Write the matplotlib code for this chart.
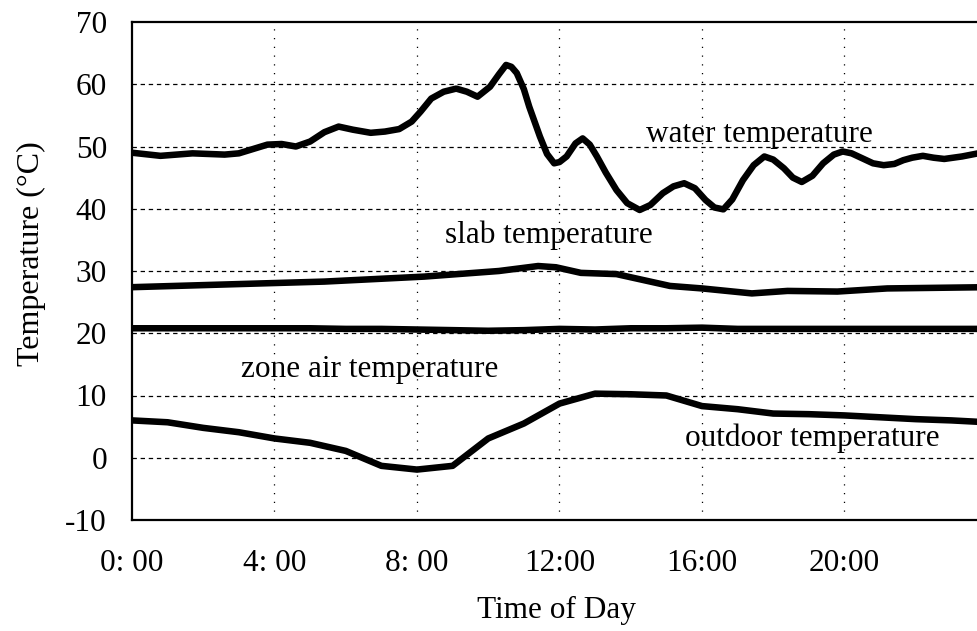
import matplotlib
matplotlib.use("Agg")
import matplotlib.pyplot as plt

plt.rcParams["font.family"] = ["Liberation Serif", "DejaVu Serif"]
plt.rcParams["axes.unicode_minus"] = False

# Hour of day for each water-temperature sample
water_hours = [0.0, 0.8, 1.7, 2.6, 3.0, 3.4, 3.8, 4.2, 4.6, 5.0, 5.4, 5.8, 6.2,
               6.7, 7.1, 7.5, 7.85, 8.1, 8.4, 8.75, 9.1, 9.4, 9.7, 10.05, 10.3,
               10.5, 10.65, 10.8, 11.0, 11.15, 11.45, 11.65, 11.85, 12.0, 12.2,
               12.45, 12.65, 12.85, 13.05, 13.3, 13.6, 13.9, 14.25, 14.55, 14.9,
               15.2, 15.5, 15.8, 16.1, 16.35, 16.6, 16.85, 17.15, 17.45, 17.75,
               18.0, 18.3, 18.55, 18.8, 19.1, 19.4, 19.7, 19.95, 20.2, 20.5,
               20.8, 21.1, 21.4, 21.65, 21.9, 22.2, 22.5, 22.8, 23.3, 23.75, 24.0]
water_temp = [49.0, 48.5, 48.9, 48.7, 48.9, 49.6, 50.3, 50.4, 50.0, 50.8, 52.3,
              53.2, 52.7, 52.2, 52.4, 52.8, 54.0, 55.6, 57.7, 58.8, 59.3, 58.8,
              58.0, 59.6, 61.6, 63.1, 62.8, 61.8, 59.2, 56.4, 51.6, 48.8, 47.3,
              47.5, 48.4, 50.5, 51.3, 50.3, 48.4, 45.8, 43.0, 40.9, 39.8, 40.6,
              42.5, 43.6, 44.1, 43.3, 41.4, 40.2, 39.9, 41.5, 44.6, 47.0, 48.4,
              47.9, 46.5, 45.0, 44.3, 45.3, 47.3, 48.7, 49.2, 48.9, 48.1, 47.3,
              47.0, 47.2, 47.8, 48.2, 48.5, 48.2, 48.0, 48.4, 48.9, 49.1]

slab_hours = [0.0, 3.0, 5.4, 8.2, 10.3, 11.4, 11.9, 12.6, 13.6, 15.1, 16.0,
              17.4, 18.4, 19.8, 21.2, 24.0]
slab_temp = [27.4, 27.9, 28.3, 29.1, 30.0, 30.8, 30.6, 29.7, 29.5, 27.6, 27.2,
             26.4, 26.8, 26.7, 27.2, 27.4]

hours = list(range(25))
zone_air_temp = [20.8, 20.8, 20.8, 20.8, 20.8, 20.8, 20.7, 20.7, 20.6, 20.5,
                 20.4, 20.5, 20.7, 20.6, 20.8, 20.8, 20.9, 20.7, 20.7, 20.7,
                 20.7, 20.7, 20.7, 20.7, 20.7]
outdoor_temp = [6.0, 5.7, 4.8, 4.1, 3.1, 2.4, 1.1, -1.3, -1.9, -1.3, 3.1, 5.5,
                8.7, 10.3, 10.2, 10.0, 8.3, 7.8, 7.1, 7.0, 6.8, 6.5, 6.2, 6.0, 5.7]

x_ticks = [0, 4, 8, 12, 16, 20]
x_tick_labels = ["0: 00", "4: 00", "8: 00", "12:00", "16:00", "20:00"]
y_ticks = list(range(-10, 71, 10))

W, H = 978, 631
fig = plt.figure(figsize=(W / 100, H / 100), dpi=100)
ax = fig.add_axes([132 / W, (H - 520) / H, 855 / W, 498 / H])

lw = 4.7
for xs, ys in [(water_hours, water_temp), (slab_hours, slab_temp),
               (hours, zone_air_temp), (hours, outdoor_temp)]:
    ax.plot(xs, ys, color="black", lw=lw, solid_joinstyle="round",
            solid_capstyle="butt", zorder=3)

ax.set_xlim(0, 24)
ax.set_ylim(-10, 70)
ax.set_xticks(x_ticks)
ax.set_xticklabels(x_tick_labels)
ax.set_yticks(y_ticks)

# grid: dashed horizontals, dotted verticals
for yv in range(0, 61, 10):
    ax.axhline(yv, color="black", lw=0.9, ls=(0, (3.5, 3)), zorder=1)
for xv in [4, 8, 12, 16, 20]:
    ax.axvline(xv, color="black", lw=0.9, ls=(0, (1, 6)), zorder=1)

for side in ["left", "top", "bottom"]:
    ax.spines[side].set_linewidth(1.6)
ax.spines["right"].set_visible(False)

fs = 22.5
ax.tick_params(axis="both", length=0, labelsize=fs)
ax.tick_params(axis="y", pad=18)
ax.tick_params(axis="x", pad=21)

ax.text(17.6, 52.0, "water temperature", fontsize=fs, ha="center", va="center")
ax.text(11.7, 35.7, "slab temperature", fontsize=fs, ha="center", va="center")
ax.text(6.67, 14.1, "zone air temperature", fontsize=fs, ha="center", va="center")
ax.text(19.1, 3.1, "outdoor temperature", fontsize=fs, ha="center", va="center")

fig.text(31 / W, 1 - 254 / H, "Temperature (\u00b0C)", rotation=90,
         fontsize=23, ha="center", va="center")
fig.text(556 / W, 1 - 610 / H, "Time of Day", fontsize=fs,
         ha="center", va="center")

fig.savefig("out.png", dpi=100)
